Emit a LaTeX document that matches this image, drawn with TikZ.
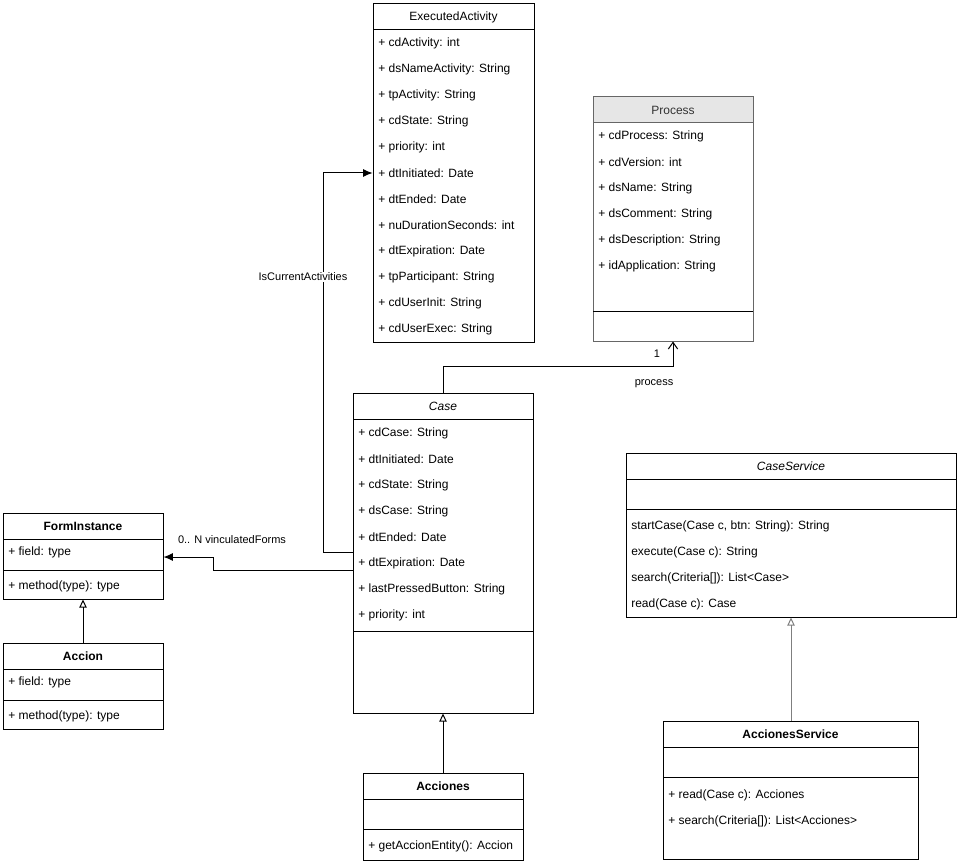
\documentclass[tikz,border=0pt]{standalone}
\usepackage{fontspec}
\setmainfont{Liberation Sans}
\usetikzlibrary{arrows.meta,fit}
\definecolor{hdrfill}{HTML}{E6E6E6}
\definecolor{procline}{HTML}{666666}
\definecolor{proctext}{HTML}{333333}
\definecolor{grayline}{HTML}{7F7F7F}
\tikzset{
  umlframe/.style={draw, inner sep=0pt, line width=0.75pt},
  attr/.style={anchor=west, inner sep=0pt, font=\fontsize{9}{11}\selectfont},
  ttl/.style={inner sep=0pt, font=\fontsize{9}{11}\selectfont},
  elabel/.style={inner sep=1pt, fill=white, font=\fontsize{8.25}{10}\selectfont},
  sep/.style={line width=0.75pt},
  conn/.style={line width=0.75pt},
  inherit/.style={conn, -{Triangle[open, length=6pt, width=5.5pt]}},
  assoc/.style={conn, -{Latex[length=7pt, width=6pt]}},
  openarr/.style={conn, -{Straight Barb[length=5pt, width=7pt]}},
}
\begin{document}
\begin{tikzpicture}[x=0.75pt, y=-0.75pt]
\useasboundingbox (0,0) rectangle (960,866);

% ExecutedActivity
\node[umlframe, fit={(373,4)(534,342)}] (ea) {};
\draw[sep] (373,30) -- (534,30);
\node[ttl] (eat) at (453.5,17) {ExecutedActivity};
\node[attr] (ea1) at (378,43) {+ cdActivity: int};
\node[attr] (ea2) at (378,69) {+ dsNameActivity: String};
\node[attr] (ea3) at (378,95) {+ tpActivity: String};
\node[attr] (ea4) at (378,121) {+ cdState: String};
\node[attr] (ea5) at (378,147) {+ priority: int};
\node[attr] (ea6) at (378,173) {+ dtInitiated: Date};
\node[attr] (ea7) at (378,199) {+ dtEnded: Date};
\node[attr] (ea8) at (378,225) {+ nuDurationSeconds: int};
\node[attr] (ea9) at (378,251) {+ dtExpiration: Date};
\node[attr] (ea10) at (378,277) {+ tpParticipant: String};
\node[attr] (ea11) at (378,303) {+ cdUserInit: String};
\node[attr] (ea12) at (378,329) {+ cdUserExec: String};

% Process
\fill[hdrfill] (593,97) rectangle (753,123);
\node[umlframe, draw=procline, fit={(593,97)(753,341)}] (proc) {};
\draw[sep, procline] (593,123) -- (753,123);
\draw[sep] (593,311) -- (753,311);
\node[ttl, text=proctext] (proct) at (673,110) {Process};
\node[attr] (pr1) at (598,136) {+ cdProcess: String};
\node[attr] (pr2) at (598,162) {+ cdVersion: int};
\node[attr] (pr3) at (598,188) {+ dsName: String};
\node[attr] (pr4) at (598,214) {+ dsComment: String};
\node[attr] (pr5) at (598,240) {+ dsDescription: String};
\node[attr] (pr6) at (598,266) {+ idApplication: String};

% Case
\node[umlframe, fit={(353,393)(533,713)}] (case) {};
\draw[sep] (353,419) -- (533,419);
\draw[sep] (353,631) -- (533,631);
\node[ttl, font=\fontsize{9}{11}\selectfont\itshape] (caset) at (443,406) {Case};
\node[attr] (c1) at (358,433) {+ cdCase: String};
\node[attr] (c2) at (358,459) {+ dtInitiated: Date};
\node[attr] (c3) at (358,485) {+ cdState: String};
\node[attr] (c4) at (358,511) {+ dsCase: String};
\node[attr] (c5) at (358,537) {+ dtEnded: Date};
\node[attr] (c6) at (358,563) {+ dtExpiration: Date};
\node[attr] (c7) at (358,589) {+ lastPressedButton: String};
\node[attr] (c8) at (358,615) {+ priority: int};

% FormInstance
\node[umlframe, fit={(3,513)(163,599)}] (fi) {};
\draw[sep] (3,539) -- (163,539);
\draw[sep] (3,570) -- (163,570);
\node[ttl, font=\fontsize{9}{11}\selectfont\bfseries] (fit) at (83,526) {FormInstance};
\node[attr] (fi1) at (8,552) {+ field: type};
\node[attr] (fi2) at (8,586) {+ method(type): type};

% Accion
\node[umlframe, fit={(3,643)(163,729)}] (acc) {};
\draw[sep] (3,669) -- (163,669);
\draw[sep] (3,700) -- (163,700);
\node[ttl, font=\fontsize{9}{11}\selectfont\bfseries] (acct) at (83,656) {Accion};
\node[attr] (ac1) at (8,682) {+ field: type};
\node[attr] (ac2) at (8,716) {+ method(type): type};

% Acciones
\node[umlframe, fit={(363,773)(523,860)}] (accs) {};
\draw[sep] (363,799) -- (523,799);
\draw[sep] (363,829) -- (523,829);
\node[ttl, font=\fontsize{9}{11}\selectfont\bfseries] (accst) at (443,786) {Acciones};
\node[attr] (as1) at (368,846) {+ getAccionEntity(): Accion};

% CaseService
\node[umlframe, fit={(626,453)(956,617)}] (cs) {};
\draw[sep] (626,479) -- (956,479);
\draw[sep] (626,509) -- (956,509);
\node[ttl, font=\fontsize{9}{11}\selectfont\itshape] (cst) at (791,466) {CaseService};
\node[attr] (cs1) at (631,526) {startCase(Case c, btn: String): String};
\node[attr] (cs2) at (631,552) {execute(Case c): String};
\node[attr] (cs3) at (631,578) {search(Criteria[]): List<Case>};
\node[attr] (cs4) at (631,604) {read(Case c): Case};

% AccionesService
\node[umlframe, fit={(663,721)(918,859)}] (ass) {};
\draw[sep] (663,747) -- (918,747);
\draw[sep] (663,777) -- (918,777);
\node[ttl, font=\fontsize{9}{11}\selectfont\bfseries] (asst) at (790.5,734) {AccionesService};
\node[attr] (ss1) at (668,795) {+ read(Case c): Acciones};
\node[attr] (ss2) at (668,821) {+ search(Criteria[]): List<Acciones>};

% Connectors
\draw[assoc] (case.west |- 0,552) -- (323,552) -- (323,173) -- (ea.west |- 0,173);
\node[elabel] (lcur) at (303,277) {IsCurrentActivities};

\draw[assoc] (case.west |- 0,570) -- (213,570) -- (213,557) -- (fi.east |- 0,557);
\node[elabel] (lvin) at (232,540) {0.. N vinculatedForms};

\draw[openarr] (case.north) -- (443,366) -| (proc.south);
\node[elabel, fill=none] (lone) at (657,354) {1};
\node[elabel, fill=none] (lproc) at (654,384) {process};

\draw[inherit] (accs.north) -- (case.south);
\draw[inherit] (acc.north) -- (fi.south);
\draw[inherit, grayline] (ass.north -| 791,0) -- (cs.south -| 791,0);

\end{tikzpicture}
\end{document}
